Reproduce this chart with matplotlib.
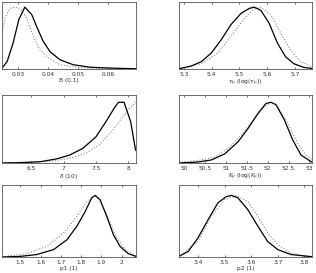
import numpy as np
import matplotlib
matplotlib.use('Agg')
import matplotlib.pyplot as plt

# posterior (solid) and prior/reference (dotted) curves, normalised to peak 1
b_x_solid = [0.0247, 0.0264, 0.0284, 0.0303, 0.0323, 0.0346, 0.0362, 0.0384, 0.0407, 0.044, 0.0484, 0.054, 0.0607, 0.0693]
b_y_solid = [0.016, 0.12, 0.42, 0.80, 1.0, 0.88, 0.69, 0.45, 0.28, 0.15, 0.07, 0.03, 0.016, 0.005]
b_x_dot = [0.0247, 0.0257, 0.0273, 0.029, 0.0307, 0.0329, 0.0351, 0.0373, 0.0401, 0.044, 0.0496, 0.0573, 0.0693]
b_y_dot = [0.58, 0.82, 0.98, 1.0, 0.98, 0.82, 0.53, 0.31, 0.18, 0.07, 0.027, 0.01, 0.005]

tau_x_solid = [5.282, 5.327, 5.363, 5.399, 5.434, 5.47, 5.506, 5.536, 5.553, 5.577, 5.607, 5.637, 5.666, 5.696, 5.732, 5.761]
tau_y_solid = [0.005, 0.05, 0.12, 0.26, 0.47, 0.72, 0.90, 0.98, 1.0, 0.95, 0.74, 0.42, 0.2, 0.086, 0.027, 0.01]
tau_x_dot = [5.282, 5.363, 5.4225, 5.47, 5.518, 5.553, 5.577, 5.613, 5.649, 5.684, 5.72, 5.761]
tau_y_dot = [0.005, 0.086, 0.26, 0.53, 0.82, 0.97, 1.0, 0.88, 0.58, 0.31, 0.12, 0.04]

d_x_solid = [6.05, 6.33, 6.634, 6.889, 7.093, 7.296, 7.50, 7.654, 7.78, 7.847, 7.934, 8.036, 8.112]
d_y_solid = [0.0, 0.005, 0.02, 0.066, 0.13, 0.24, 0.43, 0.68, 0.9, 1.0, 1.0, 0.68, 0.21]
d_x_dot = [6.05, 6.787, 7.093, 7.348, 7.553, 7.756, 7.909, 8.011, 8.112]
d_y_dot = [0.0, 0.027, 0.077, 0.16, 0.3, 0.54, 0.75, 0.89, 1.0]

k_x_solid = [49.87, 50.33, 50.65, 50.97, 51.29, 51.53, 51.77, 51.96, 52.08, 52.2, 52.4, 52.6, 52.8, 53.0, 53.06]
k_y_solid = [0.0, 0.016, 0.05, 0.15, 0.35, 0.57, 0.82, 0.98, 1.0, 0.96, 0.71, 0.38, 0.13, 0.04, 0.016]
k_x_dot = [49.87, 50.33, 50.73, 51.05, 51.37, 51.69, 51.93, 52.08, 52.24, 52.48, 52.72, 52.92, 53.06]
k_y_dot = [0.005, 0.04, 0.1, 0.24, 0.46, 0.74, 0.93, 1.0, 0.93, 0.65, 0.32, 0.13, 0.06]

p1_x_solid = [1.41, 1.5, 1.582, 1.664, 1.73, 1.779, 1.82, 1.852, 1.869, 1.893, 1.926, 1.959, 1.992, 2.032, 2.07]
p1_y_solid = [0.0, 0.01, 0.04, 0.12, 0.28, 0.5, 0.74, 0.96, 1.0, 0.93, 0.66, 0.36, 0.17, 0.054, 0.01]
p1_x_dot = [1.41, 1.533, 1.631, 1.713, 1.779, 1.828, 1.869, 1.893, 1.934, 1.975, 2.016, 2.07]
p1_y_dot = [0.005, 0.054, 0.17, 0.39, 0.66, 0.9, 1.0, 0.93, 0.63, 0.31, 0.12, 0.02]

p2_x_solid = [3.328, 3.363, 3.4, 3.437, 3.475, 3.506, 3.525, 3.55, 3.587, 3.625, 3.662, 3.7, 3.749, 3.828]
p2_y_solid = [0.01, 0.09, 0.31, 0.6, 0.88, 0.98, 1.0, 0.96, 0.77, 0.5, 0.25, 0.12, 0.04, 0.005]
p2_x_dot = [3.328, 3.4, 3.45, 3.5, 3.543, 3.587, 3.625, 3.662, 3.7, 3.749, 3.8, 3.828]
p2_y_dot = [0.01, 0.25, 0.66, 0.93, 1.0, 0.9, 0.66, 0.39, 0.2, 0.065, 0.016, 0.005]

labels = ['B (0.1)', r'$\tau_p$ (log($\tau_p$))', r'$\delta$ (10)',
          r'$K_p$ (log($K_p$))', 'p1 (1)', 'p2 (1)']
xticks = [[0.03, 0.04, 0.05, 0.06], [5.3, 5.4, 5.5, 5.6, 5.7],
          [6.5, 7, 7.5, 8], [50, 50.5, 51, 51.5, 52, 52.5, 53],
          [1.5, 1.6, 1.7, 1.8, 1.9, 2], [3.4, 3.5, 3.6, 3.7, 3.8]]
xlims = [(0.0247, 0.0693), (5.282, 5.761), (6.05, 8.118),
         (49.87, 53.06), (1.41, 2.07), (3.328, 3.828)]
ymax = [1.08, 1.08, 1.12, 1.12, 1.17, 1.17]

solid = [(b_x_solid, b_y_solid), (tau_x_solid, tau_y_solid), (d_x_solid, d_y_solid),
         (k_x_solid, k_y_solid), (p1_x_solid, p1_y_solid), (p2_x_solid, p2_y_solid)]
dotted = [(b_x_dot, b_y_dot), (tau_x_dot, tau_y_dot), (d_x_dot, d_y_dot),
          (k_x_dot, k_y_dot), (p1_x_dot, p1_y_dot), (p2_x_dot, p2_y_dot)]

# axes boxes in figure fractions
lefts = [0.0063, 0.566]
widths = [0.424, 0.421]
bottoms = [0.747, 0.403, 0.0586]
heights = [0.245, 0.249, 0.264]

fig = plt.figure(figsize=(3.16, 2.73), dpi=100)
for i in range(6):
    r, c = i // 2, i % 2
    ax = fig.add_axes([lefts[c], bottoms[r], widths[c], heights[r]])
    ax.plot(dotted[i][0], dotted[i][1], ':', color='#8a8a8a', lw=0.8)
    ax.plot(solid[i][0], solid[i][1], '-', color='black', lw=0.9)
    ax.set_xlim(xlims[i])
    ax.set_ylim(0, ymax[i])
    ax.set_xticks(xticks[i])
    ax.set_xticklabels([('%g' % t) for t in xticks[i]])
    ax.set_yticks([])
    ax.tick_params(axis='x', direction='in', top=True, length=1.5, width=0.5,
                   labelsize=4.2, pad=2, colors='#333333', labelcolor='#333333')
    ax.set_xlabel(labels[i], fontsize=4.2, labelpad=1, color='#333333')
    for s in ax.spines.values():
        s.set_linewidth(0.6)
        s.set_color('#555555')

fig.savefig('out.png', dpi=100)
